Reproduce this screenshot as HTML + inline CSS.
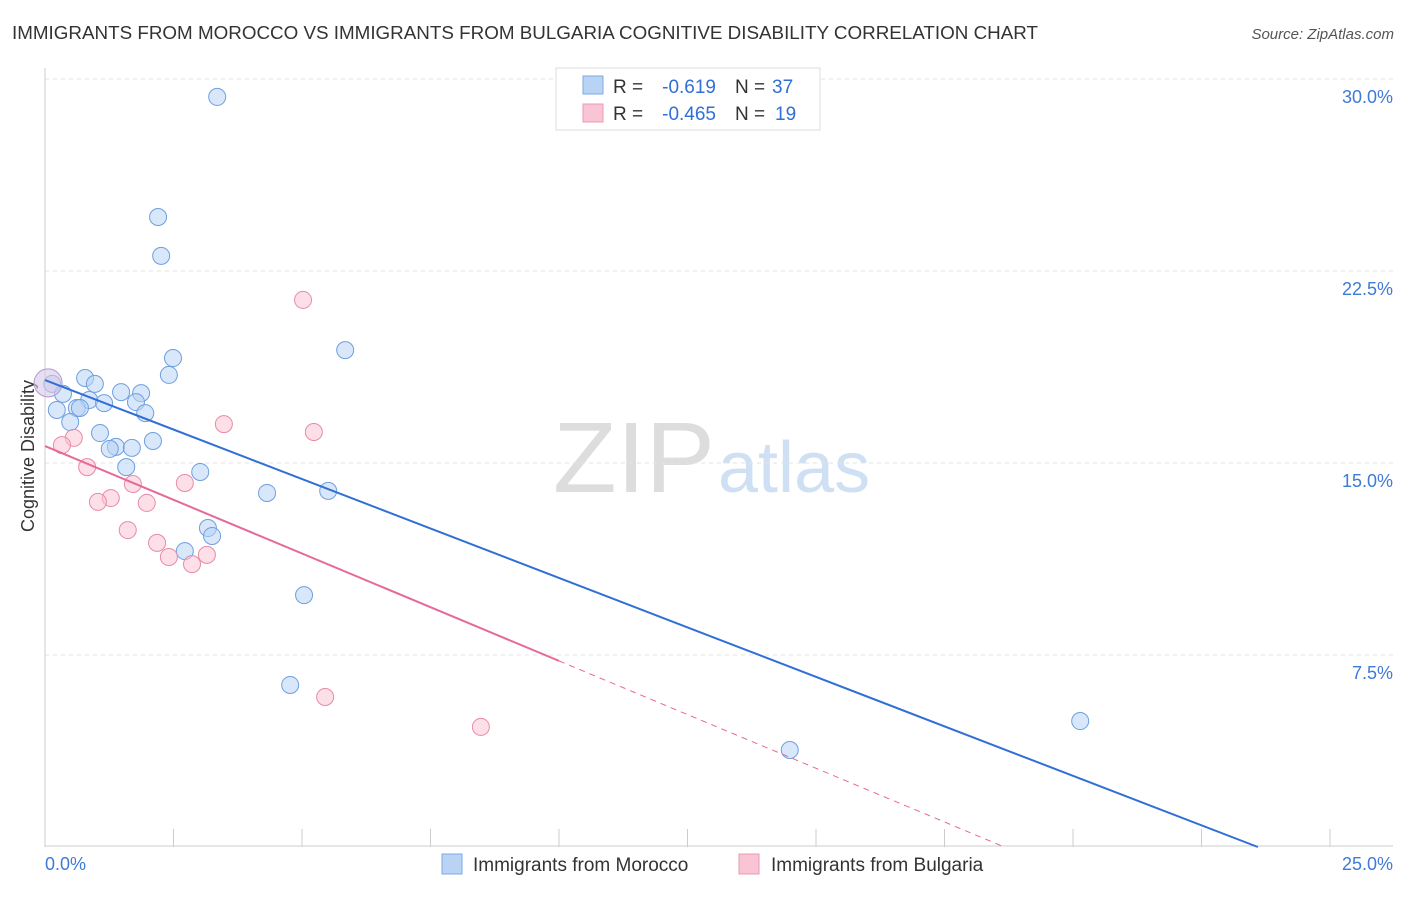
<!DOCTYPE html>
<html><head><meta charset="utf-8"><style>
body{margin:0;background:#fff;font-family:"Liberation Sans",sans-serif;}
svg text{font-family:"Liberation Sans",sans-serif;}
</style></head><body>
<svg id="chart" width="1406" height="892" xmlns="http://www.w3.org/2000/svg">
<text x="12" y="39" font-size="18" fill="#333" textLength="1026" lengthAdjust="spacingAndGlyphs">IMMIGRANTS FROM MOROCCO VS IMMIGRANTS FROM BULGARIA COGNITIVE DISABILITY CORRELATION CHART</text>
<text x="1394" y="39" font-size="15" fill="#555" font-style="italic" text-anchor="end">Source: ZipAtlas.com</text>
<text x="553" y="492" font-size="100" fill="#ddd" textLength="162" lengthAdjust="spacingAndGlyphs">ZIP</text>
<text x="718" y="492" font-size="72" fill="#cfe0f5">atlas</text>
<text transform="translate(34,456) rotate(-90)" font-size="18" fill="#333" text-anchor="middle">Cognitive Disability</text>
<g id="grid"></g><g id="marks"></g>
<g>
<rect x="556" y="68" width="264" height="62" fill="#fff" stroke="#ddd"/>
<rect x="583" y="76" width="20" height="18" fill="#b8d3f4" stroke="#7fa8e0"/>
<rect x="583" y="104" width="20" height="18" fill="#f9c4d4" stroke="#eb9ab3"/>
<text x="613" y="93" font-size="19" fill="#333">R =</text>
<text x="716" y="93" font-size="19" fill="#2f6fd6" text-anchor="end">-0.619</text>
<text x="735" y="93" font-size="19" fill="#333">N =</text>
<text x="772" y="93" font-size="19" fill="#2f6fd6">37</text>
<text x="613" y="120" font-size="19" fill="#333">R =</text>
<text x="716" y="120" font-size="19" fill="#2f6fd6" text-anchor="end">-0.465</text>
<text x="735" y="120" font-size="19" fill="#333">N =</text>
<text x="775" y="120" font-size="19" fill="#2f6fd6">19</text>
</g>
<g>
<rect x="442" y="854" width="20" height="20" fill="#b8d3f4" stroke="#7fa8e0"/>
<text x="473" y="871" font-size="19" fill="#333">Immigrants from Morocco</text>
<rect x="739" y="854" width="20" height="20" fill="#f9c4d4" stroke="#eb9ab3"/>
<text x="771" y="871" font-size="19" fill="#333">Immigrants from Bulgaria</text>
</g>
</svg>
<script>
const xTicks=[0,2.5,5,7.5,10,12.5,15,17.5,20,22.5,25];
const yTicks=[7.5,15,22.5,30];
const yTickLabels=["7.5%","15.0%","22.5%","30.0%"];
const moroccoX=[3.35,2.20,2.26,5.84,2.49,2.41,0.78,0.97,0.14,0.35,1.48,1.87,0.86,1.15,1.77,0.62,0.23,1.95,0.49,1.07,2.10,1.38,1.26,1.69,1.58,3.02,4.32,5.51,3.17,3.25,2.72,5.04,4.77,20.14,14.49,0.68];
const moroccoY=[29.30,24.61,23.09,19.41,19.10,18.44,18.32,18.09,18.09,17.70,17.77,17.73,17.46,17.34,17.38,17.15,17.07,16.95,16.60,16.17,15.86,15.63,15.55,15.59,14.84,14.65,13.83,13.91,12.46,12.15,11.56,9.84,6.33,4.92,3.79,17.15];
const bulgariaX=[5.02,3.48,5.23,0.56,0.33,0.82,1.71,2.72,1.28,1.03,1.98,1.61,2.18,2.41,3.15,2.86,5.45,8.48];
const bulgariaY=[21.37,16.52,16.21,15.98,15.70,14.84,14.18,14.22,13.63,13.48,13.44,12.38,11.88,11.33,11.41,11.05,5.86,4.69];
const bigX=0.06, bigY=18.13;
const moroccoTrend=[18.24,-0.773];
const bulgariaTrend=[15.66,-0.839];
const X=v=>45+v*51.4, Y=v=>79+(30-v)*25.6;
const NS="http://www.w3.org/2000/svg";
const grid=document.getElementById('grid'), marks=document.getElementById('marks');
function mk(p,tag,a){const e=document.createElementNS(NS,tag);for(const k in a)e.setAttribute(k,a[k]);p.appendChild(e);return e;}
yTicks.forEach((t,i)=>{
 const l=mk(grid,'line',{x1:45,x2:1393,y1:Y(t),y2:Y(t),stroke:'#e3e3e3','stroke-dasharray':'4,4'});
 
 
 const tx=mk(grid,'text',{x:1393,y:Y(t)+24,'font-size':18,fill:'#3f7ad6','text-anchor':'end'});tx.textContent=yTickLabels[i];
 
 
});
const ax=mk(grid,'line',{x1:45,x2:1393,y1:Y(0)-1,y2:Y(0)-1,stroke:'#ccc'});


const ay=mk(grid,'line',{x1:45,x2:45,y1:68,y2:Y(0),stroke:'#ccc'});


xTicks.forEach(t=>{const l=mk(grid,'line',{x1:X(t),x2:X(t),y1:Y(0)-18,y2:Y(0),stroke:'#ccc'});
 
 });
[["0.0%",45,'start'],["25.0%",1393,'end']].forEach(([s,x,a])=>{const t=mk(grid,'text',{x:x,y:870,'font-size':18,fill:'#3f7ad6','text-anchor':a});t.textContent=s;
 
 });
function dots(xs,ys,fill,stroke,name){xs.forEach((x,i)=>{const c=mk(marks,'circle',{cx:X(x),cy:Y(ys[i]),r:8.5,fill:fill,'fill-opacity':0.55,stroke:stroke,'stroke-width':1});
 
 });}
dots(moroccoX,moroccoY,'#b8d3f4','#6f9fe0','morocco-point');
dots(bulgariaX,bulgariaY,'#f9c4d4','#e88aa8','bulgaria-point');
const big=mk(marks,'circle',{cx:X(bigX),cy:Y(bigY),r:14,fill:'#d9c8e8','fill-opacity':0.6,stroke:'#b29ad0'});


const bx2=-moroccoTrend[0]/moroccoTrend[1];
const bl=mk(marks,'line',{x1:X(0),y1:Y(moroccoTrend[0]),x2:X(bx2),y2:Y(0),stroke:'#2f6fd6','stroke-width':2});


const pe=10, px2=-bulgariaTrend[0]/bulgariaTrend[1];
const pl=mk(marks,'line',{x1:X(0),y1:Y(bulgariaTrend[0]),x2:X(pe),y2:Y(bulgariaTrend[0]+bulgariaTrend[1]*pe),stroke:'#e5699a','stroke-width':2});


const pd=mk(marks,'line',{x1:X(pe),y1:Y(bulgariaTrend[0]+bulgariaTrend[1]*pe),x2:X(px2),y2:Y(0),stroke:'#e5699a','stroke-width':1,'stroke-dasharray':'6,5'});


</script>
</body></html>
